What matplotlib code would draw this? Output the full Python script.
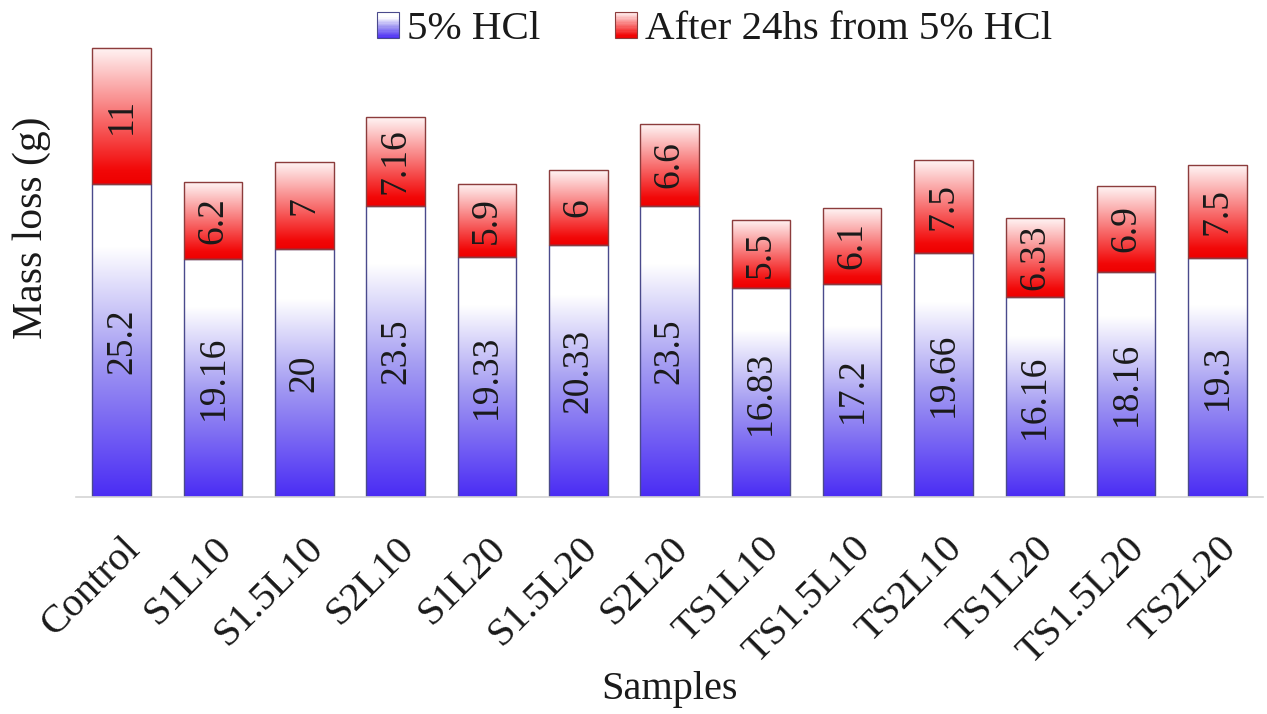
import numpy as np
import matplotlib
matplotlib.use("Agg")
import matplotlib.pyplot as plt
from matplotlib.colors import LinearSegmentedColormap
from matplotlib.patches import Rectangle
from matplotlib.legend_handler import HandlerBase

samples = ['Control', 'S1L10', 'S1.5L10', 'S2L10', 'S1L20', 'S1.5L20', 'S2L20',
           'TS1L10', 'TS1.5L10', 'TS2L10', 'TS1L20', 'TS1.5L20', 'TS2L20']
hcl_5 = [25.2, 19.16, 20, 23.5, 19.33, 20.33, 23.5, 16.83, 17.2, 19.66, 16.16, 18.16, 19.3]
after_24h = [11, 6.2, 7, 7.16, 5.9, 6, 6.6, 5.5, 6.1, 7.5, 6.33, 6.9, 7.5]
series_names = ['5% HCl', 'After 24hs from 5% HCl']

plt.rcParams['font.family'] = ['Liberation Serif', 'DejaVu Serif']

blue_cmap = LinearSegmentedColormap.from_list(
    'blue_grad', [(0.0, '#4a2cf4'), (0.45, '#a49cf2'), (0.8, '#ffffff'), (1.0, '#ffffff')])
red_cmap = LinearSegmentedColormap.from_list(
    'red_grad', [(0.0, '#ee0000'), (0.1, '#f20808'), (1.0, '#fff5f5')])

BLUE_EDGE = '#4a4a8c'
RED_EDGE = '#8c3c3c'
TXT = '#1a1a1a'


class GradHandler(HandlerBase):
    def __init__(self, cmap, edge):
        super().__init__()
        self.cmap = cmap
        self.edge = edge

    def create_artists(self, legend, orig_handle, xdescent, ydescent,
                       width, height, fontsize, trans):
        n = 20
        arts = []
        for i in range(n):
            arts.append(Rectangle((-xdescent, -ydescent + i * height / n), width, height / n,
                                  facecolor=self.cmap((i + 0.5) / n), edgecolor='none',
                                  transform=trans))
        arts.append(Rectangle((-xdescent, -ydescent), width, height, facecolor='none',
                              edgecolor=self.edge, lw=0.8, transform=trans))
        return arts


fig = plt.figure(figsize=(12.67, 7.14), dpi=100)
ax = fig.add_axes([0.06, 0.304, 0.937, 0.654])

width = 0.64
grad = np.linspace(0, 1, 256).reshape(-1, 1)
x = np.arange(len(samples))

for i in range(len(samples)):
    x0, x1 = x[i] - width / 2, x[i] + width / 2
    b = hcl_5[i]
    t = b + after_24h[i]
    ax.imshow(grad, extent=(x0, x1, 0, b), origin='lower', aspect='auto',
              cmap=blue_cmap, interpolation='bilinear', zorder=1)
    ax.imshow(grad, extent=(x0, x1, b, t), origin='lower', aspect='auto',
              cmap=red_cmap, interpolation='bilinear', zorder=1)

h1 = ax.bar(x, hcl_5, width, facecolor='none', edgecolor=BLUE_EDGE, lw=1.0, zorder=2)
h2 = ax.bar(x, after_24h, width, bottom=hcl_5, facecolor='none', edgecolor=RED_EDGE,
            lw=1.0, zorder=2)

for i in range(len(samples)):
    ax.text(x[i], hcl_5[i] / 2, f"{hcl_5[i]:g}", rotation=90, ha='center', va='center',
            fontsize=27, color=TXT, zorder=3)
    ax.text(x[i], hcl_5[i] + after_24h[i] / 2, f"{after_24h[i]:g}", rotation=90,
            ha='center', va='center', fontsize=27, color=TXT, zorder=3)

ax.set_xlim(-0.5, len(samples) - 0.5)
ax.set_ylim(0, 37.66)
ax.set_xticks(x)
ax.set_xticklabels(samples, rotation=45, ha='right', rotation_mode='anchor',
                   fontsize=29, color=TXT)
ax.tick_params(axis='x', length=0, pad=24)
ax.set_yticks([])
for s in ['top', 'right', 'left']:
    ax.spines[s].set_visible(False)
ax.spines['bottom'].set_color('#d4d4d4')
ax.spines['bottom'].set_linewidth(1.2)

ax.set_ylabel('Mass loss (g)', fontsize=30, color=TXT, va='center')
ax.yaxis.set_label_coords(-0.037, 0.576)
ax.set_xlabel('Samples', fontsize=29, color=TXT, va='center')
ax.xaxis.set_label_coords(0.5, -0.413)

leg = fig.legend([h1, h2], series_names, loc='center', bbox_to_anchor=(0.564, 0.958),
                 ncol=2, frameon=False, fontsize=29.5, handlelength=0.55, handleheight=0.6,
                 handletextpad=0.2, columnspacing=1.8,
                 handler_map={h1: GradHandler(blue_cmap, BLUE_EDGE),
                              h2: GradHandler(red_cmap, RED_EDGE)})
for t in leg.get_texts():
    t.set_color(TXT)

fig.savefig('out.png', dpi=100)
